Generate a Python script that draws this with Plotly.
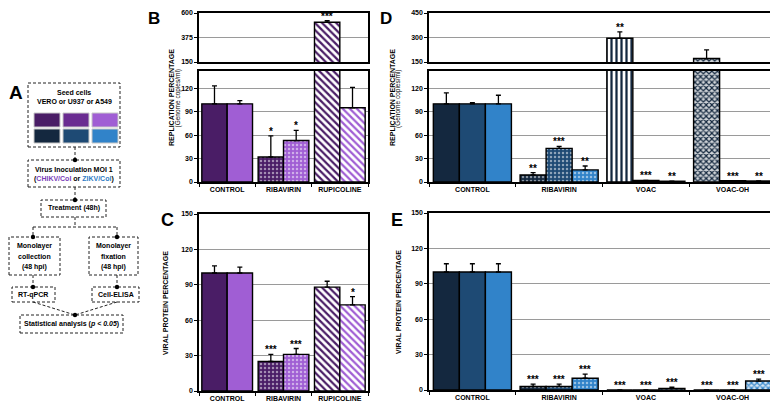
import plotly.graph_objects as go

# the page puts an 8px body margin round the figure, so the figure is drawn
# 8px smaller and all layout positions below are given in screen pixels
OFF = 8
W, H = 778 - OFF, 404 - OFF
FONT = "Liberation Sans, Arial, sans-serif"

# cell-line colours: purple = CHIKV, blue = ZIKV (VERO, U937, A549)
purple = ["#4a1d66", "#6a2c91", "#a05ed4"]
blue = ["#14283f", "#1e4a74", "#3183c9"]

# ---------------- data ----------------
chikv_categories = ["CONTROL", "RIBAVIRIN", "RUPICOLINE"]
zikv_categories = ["CONTROL", "RIBAVIRIN", "VOAC", "VOAC-OH"]

# B - CHIKV replication percentage (genome copies/ml)
b_vero = [100, 32, 515]
b_vero_err = [23, 27, 15]
b_vero_sig = ["", "*", "***"]
b_a549 = [100, 53, 95]
b_a549_err = [4, 13, 26]
b_a549_sig = ["", "*", ""]

# C - CHIKV viral protein percentage
c_vero = [100, 25, 88]
c_vero_err = [6, 6, 5]
c_vero_sig = ["", "***", ""]
c_a549 = [100, 31, 73]
c_a549_err = [5, 5, 7]
c_a549_sig = ["", "***", "*"]

# D - ZIKV replication percentage (genome copies/ml)
d_vero = [100, 9, 295, 171]
d_vero_err = [14, 3, 40, 53]
d_vero_sig = ["", "**", "**", ""]
d_u937 = [100, 43, 2, 1.7]
d_u937_err = [1.5, 2.5, 0, 0]
d_u937_sig = ["", "***", "***", "***"]
d_a549 = [100, 15.5, 1, 1.3]
d_a549_err = [11, 5, 0, 0]
d_a549_sig = ["", "**", "**", "**"]

# E - ZIKV viral protein percentage
e_vero = [100, 3, 0, 0]
e_vero_err = [7, 2, 0, 0]
e_vero_sig = ["", "***", "***", "***"]
e_u937 = [100, 3, 0, 0]
e_u937_err = [7, 2, 0, 0]
e_u937_sig = ["", "***", "***", "***"]
e_a549 = [100, 10, 1.4, 7.6]
e_a549_err = [7, 3.5, 1, 1.7]
e_a549_sig = ["", "***", "***", "***"]

chikv_patterns = ["", ".", "\\"]
zikv_patterns = ["", ".", "|", "x"]

BARGAP = 0.1


def X(px):
    return (px - OFF) / W


def Y(py):
    return 1 - (py - OFF) / H


def tint(c, f):
    r, g, b = int(c[1:3], 16), int(c[3:5], 16), int(c[5:7], 16)
    return "rgb(%d,%d,%d)" % (r + (255 - r) * f, g + (255 - g) * f, b + (255 - b) * f)


def marker_for(color, shapes):
    fg, bg, size, sol = [], [], [], []
    for s in shapes:
        if s in ("\\", "|"):
            fg.append(color); bg.append("white"); size.append(5); sol.append(0.45)
        elif s == ".":
            fg.append(tint(color, 0.5)); bg.append(color); size.append(4); sol.append(0.3)
        elif s == "x":
            fg.append(color); bg.append(tint(color, 0.8)); size.append(4); sol.append(0.5)
        else:
            fg.append(color); bg.append(color); size.append(4); sol.append(0.3)
    return dict(color=color, line=dict(color="black", width=1.4),
                pattern=dict(shape=shapes, fgcolor=fg, bgcolor=bg, size=size,
                             solidity=sol, fillmode="replace"))


fig = go.Figure()
annotations = []
shapes = []
layout_axes = {}


def panel(n, cats, series, xpx, ypx, yrange, ytickvals, labels):
    xr = "x" if n == 1 else "x%d" % n
    yr = "y" if n == 1 else "y%d" % n
    k = len(series)
    bar_px = (xpx[1] - xpx[0]) / len(cats) * (1 - BARGAP) / k
    for i, (vals, errs, sigs, color, pats) in enumerate(series):
        fig.add_trace(go.Bar(
            x=cats, y=vals, xaxis=xr, yaxis=yr, showlegend=False,
            marker=marker_for(color, pats),
            error_y=dict(type="data", symmetric=False, array=errs,
                         arrayminus=[0] * len(errs), color="black",
                         thickness=1.3, width=2.5),
        ))
        for j, s in enumerate(sigs):
            top = vals[j] + errs[j]
            if s and yrange[0] <= top <= yrange[1]:
                annotations.append(dict(
                    x=cats[j], y=top, xref=xr, yref=yr, text="<b>%s</b>" % s,
                    showarrow=False, yanchor="bottom", yshift=-3,
                    xshift=(i - (k - 1) / 2) * bar_px,
                    font=dict(size=10, color="black")))
    axis_common = dict(showline=True, mirror=True, linecolor="black", linewidth=1.5,
                       automargin=False)
    layout_axes["xaxis" if n == 1 else "xaxis%d" % n] = dict(
        domain=[X(xpx[0]), X(xpx[1])], anchor=yr, showgrid=False,
        showticklabels=labels, ticks="outside" if labels else "", ticklen=3,
        tickson="boundaries", tickcolor="black",
        tickfont=dict(size=7, color="black", weight="bold"), **axis_common)
    layout_axes["yaxis" if n == 1 else "yaxis%d" % n] = dict(
        domain=[Y(ypx[1]), Y(ypx[0])], anchor=xr, range=yrange,
        tickvals=ytickvals, ticks="outside", ticklen=3, tickcolor="black",
        showgrid=True, gridcolor="#9a9a9a", gridwidth=1, zeroline=False,
        tickfont=dict(size=7, color="black", weight="bold"), **axis_common)


b_series = [(b_vero, b_vero_err, b_vero_sig, purple[0], chikv_patterns),
            (b_a549, b_a549_err, b_a549_sig, purple[2], chikv_patterns)]
c_series = [(c_vero, c_vero_err, c_vero_sig, purple[0], chikv_patterns),
            (c_a549, c_a549_err, c_a549_sig, purple[2], chikv_patterns)]
d_series = [(d_vero, d_vero_err, d_vero_sig, blue[0], zikv_patterns),
            (d_u937, d_u937_err, d_u937_sig, blue[1], zikv_patterns),
            (d_a549, d_a549_err, d_a549_sig, blue[2], zikv_patterns)]
e_series = [(e_vero, e_vero_err, e_vero_sig, blue[0], zikv_patterns),
            (e_u937, e_u937_err, e_u937_sig, blue[1], zikv_patterns),
            (e_a549, e_a549_err, e_a549_sig, blue[2], zikv_patterns)]

low_ticks = [0, 30, 60, 90, 120]
full_ticks = [0, 30, 60, 90, 120, 150]
panel(1, chikv_categories, b_series, (199, 368), (13, 62), [150, 600], [150, 375, 600], False)
panel(2, chikv_categories, b_series, (199, 368), (71, 182), [0, 142], low_ticks, True)
panel(3, chikv_categories, c_series, (199, 368), (214, 391), [0, 150], full_ticks, True)
panel(4, zikv_categories, d_series, (429, 776), (13, 62), [150, 450], [150, 300, 450], False)
panel(5, zikv_categories, d_series, (429, 776), (71, 182), [0, 142], low_ticks, True)
panel(6, zikv_categories, e_series, (429, 776), (213, 390), [0, 150], full_ticks, True)


def text(x, y, s, size=7, bold=True, angle=0, color="black"):
    annotations.append(dict(
        x=X(x), y=Y(y), xref="paper", yref="paper", showarrow=False,
        text=("<b>%s</b>" % s) if bold else s, textangle=angle,
        xanchor="center", yanchor="middle", font=dict(size=size, color=color)))


# axis titles
text(171, 98, "REPLICATION PERCENTAGE", 7, True, -90)
text(177.5, 98, "(Genome copies/ml)", 6.5, False, -90)
text(165, 303, "VIRAL PROTEIN PERCENTAGE", 7, True, -90)
text(392, 98, "REPLICATION PERCENTAGE", 7, True, -90)
text(398, 98, "(Genome copies/ml)", 6.5, False, -90)
text(398, 302, "VIRAL PROTEIN PERCENTAGE", 7, True, -90)

# panel letters
text(16, 92, "A", 19)
text(154, 18, "B", 17)
text(167, 220, "C", 18)
text(386, 18, "D", 17)
text(397, 220, "E", 18)

# ---------------- panel A: workflow ----------------
boxes = [(28, 83, 120, 147), (28, 160, 120, 187), (41, 200, 106, 217),
         (9, 237, 60, 275), (89, 237, 138, 275), (12, 287, 55, 302),
         (92, 287, 139, 302), (20, 315, 123, 333)]
for x0, y0, x1, y1 in boxes:
    shapes.append(dict(type="rect", xref="paper", yref="paper",
                       x0=X(x0), x1=X(x1), y0=Y(y1), y1=Y(y0),
                       line=dict(color="#222", width=1, dash="3px,2px")))

links = [((75, 147), (75, 160)), ((75, 187), (75, 200)), ((75, 217), (75, 227)),
         ((33, 227), (117, 227)), ((33, 227), (33, 237)), ((117, 227), (117, 237)),
         ((33, 275), (33, 287)), ((117, 275), (117, 287)),
         ((33, 302), (75, 315)), ((117, 302), (75, 315))]
for (xa, ya), (xb, yb) in links:
    shapes.append(dict(type="line", xref="paper", yref="paper",
                       x0=X(xa), x1=X(xb), y0=Y(ya), y1=Y(yb),
                       line=dict(color="#222", width=1, dash="3px,2px")))
for cx, cy in [(75, 160), (75, 200), (33, 237), (117, 237), (33, 287), (117, 287), (75, 315)]:
    shapes.append(dict(type="circle", xref="paper", yref="paper",
                       x0=X(cx - 2.2), x1=X(cx + 2.2), y0=Y(cy + 2.2), y1=Y(cy - 2.2),
                       fillcolor="black", line=dict(width=0)))

# colour swatches for the cell lines
for row, palette in enumerate([purple, blue]):
    for col, c in enumerate(palette):
        x0 = 34 + col * 29
        y0 = 113 + row * 16
        shapes.append(dict(type="rect", xref="paper", yref="paper",
                           x0=X(x0), x1=X(x0 + 26), y0=Y(y0 + 14), y1=Y(y0),
                           fillcolor=c, line=dict(color="#c8c8c8", width=1)))

text(74, 92, "Seed cells")
text(74, 102, "VERO or U937 or A549")
text(74, 169, "Virus Inoculation MOI 1")
text(74, 179, "(<span style='color:#7a3db8'>CHIKV/Col</span> or "
             "<span style='color:#2e7bc4'>ZIKV/Col</span>)")
text(74, 208.5, "Treatment (48h)")
for i, line in enumerate(["Monolayer", "collection", "(48 hpi)"]):
    text(34.5, 246 + i * 10.5, line)
for i, line in enumerate(["Monolayer", "fixation", "(48 hpi)"]):
    text(113.5, 246 + i * 10.5, line)
text(33.5, 294.5, "RT-qPCR")
text(115.5, 294.5, "Cell-ELISA")
text(71.5, 324, "Statistical analysis (<i>p &lt; 0.05</i>)")

fig.update_layout(
    width=W, height=H, margin=dict(l=0, r=0, t=0, b=0, autoexpand=False),
    paper_bgcolor="white", plot_bgcolor="white",
    barmode="group", bargap=BARGAP, bargroupgap=0,
    font=dict(family=FONT, color="black"),
    annotations=annotations, shapes=shapes, **layout_axes)

fig.write_html("out.html")
